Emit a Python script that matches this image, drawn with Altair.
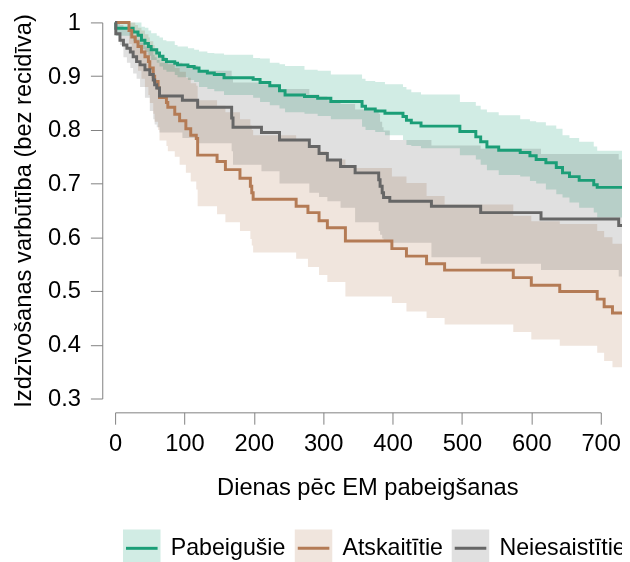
import altair as alt
import pandas as pd

groups = ["Pabeigušie", "Atskaitītie", "Neiesaistītie"]
colors = ["#1b9e77", "#b47b55", "#666666"]
band_colors = ["#d1ece4", "#f0e5dd", "#e0e0e0"]

# Pabeigušie
g_t = [0, 1, 26, 33, 38, 43, 48, 52, 60, 64, 69, 74, 86, 90, 105, 114, 121, 133, 143, 157,
       199, 209, 223, 237, 245, 273, 292, 311, 356, 361, 375, 389, 415, 420, 427, 441, 497, 520, 527, 536,
       553, 584, 598, 607, 621, 636, 645, 655, 669, 690, 695, 740]
g_s = [1.0, .989, .982, .976, .967, .961, .955, .949, .943, .937, .931, .927, .924, .921, .918, .915, .909, .906, .903, .897,
       .894, .888, .882, .873, .865, .862, .859, .853, .844, .839, .835, .831, .825, .818, .813, .807, .797, .787, .778, .768,
       .762, .758, .752, .745, .739, .730, .720, .713, .706, .698, .693, .693]
g_hi = [1.0, 1.0, 1.0, 1.0, .992, .990, .985, .980, .975, .972, .967, .965, .958, .955, .952, .949, .946, .943, .942, .940,
        .934, .933, .925, .922, .919, .912, .910, .903, .895, .891, .889, .885, .880, .875, .870, .866, .852, .845, .838, .833,
        .827, .820, .816, .814, .808, .802, .790, .785, .778, .769, .761, .761]
g_lo = [1.0, .975, .965, .958, .950, .945, .938, .930, .925, .918, .912, .908, .902, .898, .893, .889, .880, .876, .872, .865,
        .860, .852, .846, .840, .833, .830, .826, .820, .806, .800, .796, .790, .781, .772, .770, .766, .753, .745, .735, .725,
        .716, .713, .705, .700, .689, .680, .674, .665, .655, .646, .637, .637]

# Atskaitītie
a_t = [0, 20, 24, 29, 33, 38, 43, 48, 50, 55, 57, 62, 64, 74, 76, 86, 93, 102, 109, 117,
       119, 147, 159, 180, 195, 197, 199, 261, 278, 294, 306, 332, 399, 420, 449, 475, 574, 600, 641, 695,
       705, 717, 740]
a_s = [1.0, .985, .973, .964, .955, .945, .936, .927, .915, .900, .890, .878, .860, .851, .842, .829, .817, .802, .790, .784,
       .753, .741, .726, .710, .695, .683, .671, .658, .646, .631, .618, .593, .579, .565, .551, .539, .525, .511, .499, .485,
       .471, .459, .459]
a_hi = [1.0, 1.0, 1.0, .995, .990, .985, .978, .972, .965, .958, .952, .945, .935, .930, .922, .915, .908, .897, .887, .882,
        .855, .845, .833, .820, .808, .800, .790, .780, .772, .760, .745, .729, .713, .701, .677, .661, .640, .630, .625, .612,
        .600, .588, .588]
a_lo = [1.0, .960, .940, .925, .910, .895, .880, .865, .850, .830, .815, .800, .780, .770, .760, .750, .735, .720, .704, .689,
        .658, .643, .628, .612, .597, .585, .572, .560, .545, .530, .517, .490, .478, .462, .450, .438, .424, .410, .398, .385,
        .370, .358, .358]

# Neiesaistītie
n_t = [0, 1, 7, 12, 17, 22, 26, 31, 36, 43, 50, 55, 57, 60, 64, 97, 119, 168, 170, 211,
       237, 280, 294, 306, 325, 346, 380, 382, 385, 387, 396, 456, 527, 614, 726, 740]
n_s = [1.0, .979, .967, .958, .952, .945, .936, .927, .921, .912, .903, .893, .884, .878, .863, .855, .842, .822, .805, .795,
       .781, .769, .756, .744, .732, .720, .707, .695, .683, .674, .667, .658, .646, .634, .622, .622]
n_hi = [1.0, 1.0, .995, .990, .985, .980, .975, .968, .962, .955, .948, .940, .935, .930, .925, .920, .910, .900, .888, .885,
        .876, .866, .862, .855, .848, .838, .830, .815, .805, .799, .781, .771, .765, .755, .745, .745]
n_lo = [1.0, .975, .958, .935, .925, .915, .905, .895, .880, .860, .835, .820, .810, .805, .795, .785, .775, .760, .735, .723,
        .700, .683, .675, .667, .655, .628, .612, .605, .598, .594, .590, .563, .551, .539, .527, .527]

x_ticks = [0, 100, 200, 300, 400, 500, 600, 700]
y_ticks = [0.3, 0.4, 0.5, 0.6, 0.7, 0.8, 0.9, 1.0]

rows = []
for g, t, s, hi, lo in [(groups[0], g_t, g_s, g_hi, g_lo),
                        (groups[1], a_t, a_s, a_hi, a_lo),
                        (groups[2], n_t, n_s, n_hi, n_lo)]:
    for ti, si, hii, loi in zip(t, s, hi, lo):
        rows.append({"grupa": g, "diena": ti, "izdz": si, "aug": hii, "zem": loi})
df = pd.DataFrame(rows)

FONT = "Liberation Sans"
xsc = alt.Scale(domain=[0, 700], nice=False, zero=False)
ysc = alt.Scale(domain=[0.3, 1.0], nice=False, zero=False)

x_axis = alt.Axis(values=x_ticks, format="d", offset=14, tickSize=12, domainColor="#808080",
                  tickColor="#808080", domainWidth=1, tickWidth=1, labelPadding=8, labelFontSize=24,
                  labelFlush=False, labelOverlap=False,
                  labelColor="black", labelFont=FONT, grid=False, title="Dienas pēc EM pabeigšanas",
                  titleFont=FONT, titleFontSize=24, titleFontWeight="normal", titleColor="black",
                  titleX=255.5, titleY=76, titleBaseline="middle")
y_axis = alt.Axis(values=y_ticks, format=".1~f", offset=13, tickSize=12, domainColor="#808080",
                  tickColor="#808080", domainWidth=1, tickWidth=1, labelPadding=10, labelFontSize=24,
                  labelFlush=False, labelOverlap=False,
                  labelColor="black", labelFont=FONT, grid=False,
                  title="Izdzīvošanas varbūtība (bez recidīva)", titleFont=FONT, titleFontSize=24,
                  titleFontWeight="normal", titleColor="black", titlePadding=12)

# one legend: light square (band colour) with a short line (line colour); the outline is
# a single sub-path whose first 32 px are the middle line, the rest falls in the dash gap
legend = alt.Legend(orient="none", legendX=6.5, legendY=512, direction="horizontal", title=None,
                    symbolType="M-0.84,0H1V1H-1V-1H1V0Z", symbolSize=1444, symbolStrokeWidth=3,
                    symbolDash=[32, 400], symbolOpacity=1, labelOffset=8.8, labelFontSize=23.5,
                    labelFont=FONT, labelColor="black", columnPadding=2, padding=0)

base = alt.Chart(df)
bands = base.mark_area(interpolate="step-after", strokeWidth=0, blend="multiply", clip=False).encode(
    x=alt.X("diena:Q", scale=xsc, axis=x_axis),
    y=alt.Y("zem:Q", scale=ysc, axis=y_axis),
    y2="aug:Q",
    fill=alt.Fill("grupa:N", scale=alt.Scale(domain=groups, range=band_colors), legend=legend),
)
lines = base.mark_line(interpolate="step-after", strokeWidth=3, clip=False).encode(
    x=alt.X("diena:Q", scale=xsc),
    y=alt.Y("izdz:Q", scale=ysc),
    stroke=alt.Stroke("grupa:N", scale=alt.Scale(domain=groups, range=colors), legend=legend),
)

chart = alt.layer(bands, lines).properties(
    width=491.9, height=381,
    padding={"left": 108.5, "top": 11, "right": 21.6, "bottom": 162},
    autosize=alt.AutoSizeParams(type="none"),
).configure_view(stroke=None)

chart.save("out.html", embed_options={"renderer": "svg", "actions": False})
